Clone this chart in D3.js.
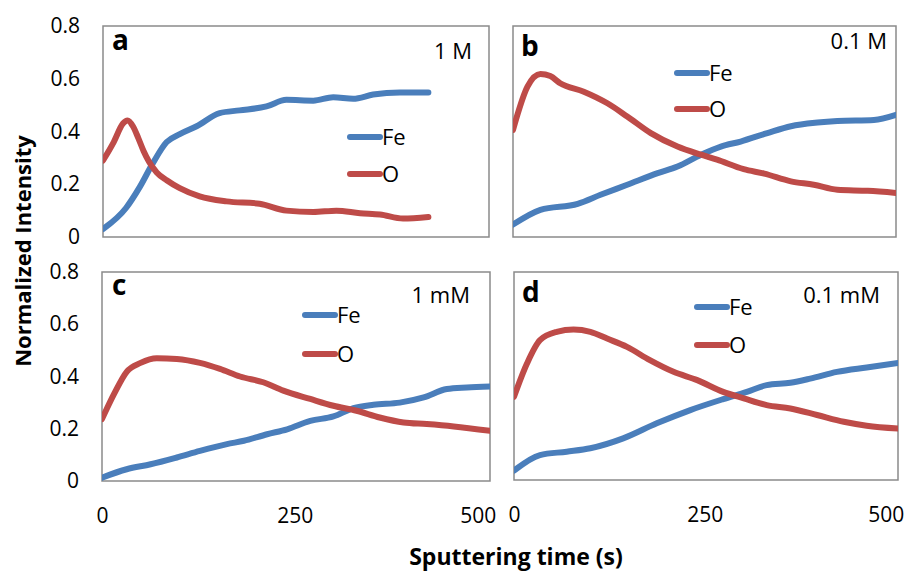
<!DOCTYPE html>
<html><head><meta charset="utf-8">
<script src="https://cdn.jsdelivr.net/npm/d3@7"></script>
<style>
body{margin:0;background:#fff}
svg{display:block}
text{font-family:"Open Sans",sans-serif;fill:#000}
</style>
</head><body>
<svg id="chart" width="906" height="584"></svg>
<script>
// ---------- data ----------
const panelLetters = ["a", "b", "c", "d"];
const concentrations = ["1 M", "0.1 M", "1 mM", "0.1 mM"];
const seriesNames = ["Fe", "O"];
const yTicks = [0, 0.2, 0.4, 0.6, 0.8];
const yTickLabels = ["0", "0.2", "0.4", "0.6", "0.8"];
const xTicks = [0, 250, 500];
const xTickLabels = ["0", "250", "500"];
const xTitle = "Sputtering time (s)";
const yTitle = "Normalized Intensity";

// panel a (1 M)
const aFeTime = [0, 30, 48, 65, 83, 100, 122, 152, 178, 213, 239, 274, 300, 326, 352, 387, 424];
const aFe = [0.03, 0.11, 0.19, 0.28, 0.36, 0.39, 0.42, 0.47, 0.48, 0.495, 0.52, 0.517, 0.53, 0.524, 0.54, 0.548, 0.548];
const aOTime = [0, 14, 26, 32, 39, 46, 53, 60, 70, 83, 100, 126, 161, 204, 239, 274, 304, 335, 361, 391, 424];
const aO = [0.29, 0.36, 0.43, 0.442, 0.42, 0.375, 0.325, 0.285, 0.245, 0.215, 0.185, 0.154, 0.135, 0.126, 0.10, 0.095, 0.10, 0.09, 0.085, 0.07, 0.076];

// panel b (0.1 M)
const bFeTime = [0, 36, 85, 115, 150, 190, 216, 247, 273, 299, 334, 365, 400, 426, 474, 503];
const bFe = [0.047, 0.103, 0.126, 0.16, 0.198, 0.242, 0.267, 0.312, 0.343, 0.362, 0.394, 0.42, 0.434, 0.44, 0.444, 0.463];
const bOTime = [0, 19, 36, 49, 62, 93, 124, 150, 181, 216, 247, 268, 303, 330, 365, 395, 426, 466, 503];
const bO = [0.406, 0.57, 0.618, 0.61, 0.583, 0.551, 0.507, 0.457, 0.394, 0.343, 0.312, 0.293, 0.257, 0.24, 0.211, 0.198, 0.179, 0.175, 0.167];

// panel c (1 mM)
const cFeTime = [0, 32, 63, 97, 127, 162, 184, 214, 240, 270, 300, 326, 352, 386, 417, 447, 473, 503];
const cFe = [0.013, 0.045, 0.064, 0.09, 0.115, 0.141, 0.154, 0.179, 0.198, 0.23, 0.247, 0.279, 0.292, 0.30, 0.32, 0.352, 0.358, 0.362];
const cOTime = [0, 16, 32, 50, 71, 97, 127, 153, 179, 209, 235, 270, 300, 330, 360, 391, 421, 456, 503];
const cO = [0.237, 0.335, 0.418, 0.452, 0.47, 0.467, 0.452, 0.429, 0.40, 0.378, 0.346, 0.314, 0.288, 0.269, 0.243, 0.224, 0.218, 0.209, 0.192];

// panel d (0.1 mM)
const dFeTime = [0, 34, 69, 100, 143, 187, 231, 274, 305, 331, 362, 388, 423, 462, 503];
const dFe = [0.036, 0.096, 0.109, 0.122, 0.16, 0.218, 0.269, 0.311, 0.339, 0.365, 0.374, 0.39, 0.416, 0.433, 0.45];
const dOTime = [0, 17, 34, 56, 78, 100, 122, 148, 178, 209, 240, 274, 301, 331, 362, 397, 432, 462, 503];
const dO = [0.32, 0.448, 0.538, 0.57, 0.579, 0.57, 0.544, 0.512, 0.461, 0.416, 0.384, 0.339, 0.314, 0.288, 0.275, 0.25, 0.224, 0.209, 0.198];

const xMax = 503;
const yMax = 0.8;

// ---------- layout & style ----------
const colors = { Fe: "#4a7ebb", O: "#be4b48" };
const layout = [
  { x0: 103, x1: 489, y0: 26, y1: 237, yAxis: true, xAxis: false, letter: [112, 50], conc: [472, 59], legend: [350, 137, 174] },
  { x0: 513, x1: 896, y0: 26, y1: 237, yAxis: false, xAxis: false, letter: [521, 56], conc: [887, 49], legend: [677, 73, 109] },
  { x0: 102, x1: 490, y0: 272, y1: 481, yAxis: true, xAxis: true, letter: [112, 295], conc: [470, 303], legend: [305, 315, 354] },
  { x0: 514, x1: 898, y0: 272, y1: 480, yAxis: false, xAxis: true, letter: [522, 302], conc: [880, 303], legend: [697, 307, 345] }
];

const panelData = [
  { Fe: [aFeTime, aFe], O: [aOTime, aO] },
  { Fe: [bFeTime, bFe], O: [bOTime, bO] },
  { Fe: [cFeTime, cFe], O: [cOTime, cO] },
  { Fe: [dFeTime, dFe], O: [dOTime, dO] }
];

const svg = d3.select("#chart");
const FONT = '"Open Sans",sans-serif';

layout.forEach((L, i) => {
  const x = d3.scaleLinear().domain([0, xMax]).range([L.x0, L.x1]);
  const y = d3.scaleLinear().domain([0, yMax]).range([L.y1, L.y0]);
  const g = svg.append("g");

  g.append("clipPath").attr("id", "clip" + i)
    .append("rect").attr("x", L.x0).attr("y", L.y0)
    .attr("width", L.x1 - L.x0).attr("height", L.y1 - L.y0);

  g.append("rect").attr("x", L.x0).attr("y", L.y0)
    .attr("width", L.x1 - L.x0).attr("height", L.y1 - L.y0)
    .attr("fill", "#fff").attr("stroke", "#8a8a8a").attr("stroke-width", 1.5);

  const line = d3.line().x(d => x(d[0])).y(d => y(d[1])).curve(d3.curveMonotoneX);

  seriesNames.forEach(name => {
    const [t, v] = panelData[i][name];
    const pts = t.map((tt, k) => [tt, v[k]]);
    g.append("path").datum(pts)
      .attr("clip-path", "url(#clip" + i + ")")
      .attr("d", line)
      .attr("fill", "none")
      .attr("stroke", colors[name])
      .attr("stroke-width", 6)
      .attr("stroke-linecap", "round")
      .attr("stroke-linejoin", "round");
  });

  if (L.yAxis) {
    const ax = g.append("g").attr("transform", `translate(${L.x0},0)`)
      .call(d3.axisLeft(y).tickValues(yTicks).tickFormat((d, k) => yTickLabels[k]).tickSize(0).tickPadding(23));
    ax.select(".domain").remove();
    ax.selectAll("text").style("font-family", FONT).style("font-size", "21px").attr("fill", "#000");
  }
  if (L.xAxis) {
    const ax = g.append("g").attr("transform", `translate(0,${L.y1})`)
      .call(d3.axisBottom(x).tickValues(xTicks).tickFormat((d, k) => xTickLabels[k]).tickSize(0).tickPadding(27));
    ax.select(".domain").remove();
    ax.selectAll("text").style("font-family", FONT).style("font-size", "21px").attr("fill", "#000");
    ax.selectAll(".tick").filter((d, k) => k === xTicks.length - 1).select("text").attr("dx", -10);
  }

  // panel letter
  g.append("text").attr("x", L.letter[0]).attr("y", L.letter[1])
    .style("font-size", "28px").style("font-weight", "bold").text(panelLetters[i]);
  // concentration
  g.append("text").attr("x", L.conc[0]).attr("y", L.conc[1]).attr("text-anchor", "end")
    .style("font-size", "22px").text(concentrations[i]);

  // legend
  seriesNames.forEach((name, k) => {
    const ly = L.legend[1 + k];
    g.append("line").attr("x1", L.legend[0]).attr("x2", L.legend[0] + 30)
      .attr("y1", ly).attr("y2", ly)
      .attr("stroke", colors[name]).attr("stroke-width", 6).attr("stroke-linecap", "round");
    g.append("text").attr("x", L.legend[0] + 32).attr("y", ly).attr("dy", "0.36em")
      .style("font-size", "22px").text(name);
  });
});

// axis titles
svg.append("text").attr("x", 516).attr("y", 565).attr("text-anchor", "middle")
  .style("font-size", "23px").style("font-weight", "bold").text(xTitle);
svg.append("text").attr("transform", "translate(31,251) rotate(-90)").attr("text-anchor", "middle")
  .style("font-size", "22px").style("font-weight", "bold").text(yTitle);
</script>
</body></html>
